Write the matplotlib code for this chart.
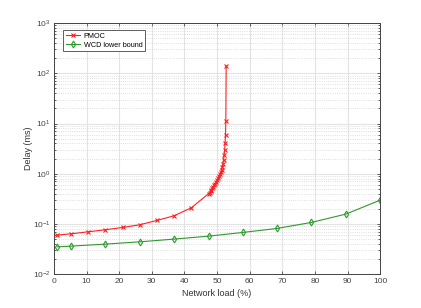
import matplotlib
matplotlib.use("Agg")
import matplotlib.pyplot as plt
from matplotlib.ticker import LogLocator, NullFormatter, MultipleLocator

plt.rcParams['font.family'] = ['Liberation Sans', 'DejaVu Sans']
plt.rcParams['mathtext.fontset'] = 'custom'
plt.rcParams['mathtext.rm'] = 'Liberation Sans'

# PMOC delay vs network load
pmoc_load = [1.05, 5.26, 10.5, 15.8, 21.1, 26.3, 31.6, 36.8, 42.1,
             47.4, 47.7, 48.0, 48.3, 48.6, 48.9, 49.2, 49.5, 49.8, 50.1,
             50.4, 50.7, 51.0, 51.2, 51.4, 51.6, 51.8, 52.0, 52.2, 52.35,
             52.45, 52.6, 52.7, 52.8]
pmoc_delay = [0.060, 0.0635, 0.0697, 0.0764, 0.0851, 0.096, 0.1175, 0.145, 0.209,
              0.40, 0.42, 0.45, 0.48, 0.51, 0.55, 0.59, 0.63, 0.68, 0.74,
              0.81, 0.89, 0.98, 1.07, 1.18, 1.33, 1.55, 1.9, 2.4, 2.95,
              4.0, 5.96, 11.3, 141.0]

# WCD lower bound
wcd_load = [1.05, 5.26, 15.8, 26.3, 36.8, 47.4, 57.9, 68.4, 78.9, 89.5, 100.0]
wcd_delay = [0.035, 0.0361, 0.0396, 0.044, 0.0498, 0.0571, 0.0676, 0.0813, 0.107, 0.157, 0.298]

fig = plt.figure(figsize=(4.21, 3.08), dpi=100)
ax = fig.add_axes([0.128, 0.110, 0.775, 0.815])

ax.plot(pmoc_load, pmoc_delay, color="#ff2020", lw=0.8, marker="x", ms=3.5,
        mew=0.8, label="PMOC")
ax.plot(wcd_load, wcd_delay, color="#2e9a2e", lw=0.8, marker="d", ms=3.5,
        mew=0.8, mfc="none", label="WCD lower bound")

ax.set_yscale("log")
ax.set_xlim(0, 100)
ax.set_ylim(1e-2, 1e3)
ax.xaxis.set_major_locator(MultipleLocator(10))
ax.yaxis.set_major_locator(LogLocator(base=10, numticks=10))
ax.yaxis.set_minor_locator(LogLocator(base=10, subs=range(2, 10), numticks=10))
ax.yaxis.set_minor_formatter(NullFormatter())

ax.grid(True, which="major", color="#e3e3e3", lw=0.8, ls="-")
ax.grid(True, which="minor", axis="y", color="#d4d4d4", lw=0.6, ls=":")
ax.set_axisbelow(True)

ax.tick_params(which="both", direction="in", top=True, right=True,
               labelsize=6, colors="#444444", length=2.5, width=0.6, pad=2.5)
ax.tick_params(which="minor", length=1.5)
for s in ax.spines.values():
    s.set_color("#444444")
    s.set_linewidth(0.7)

ax.set_xlabel("Network load (%)", fontsize=6.5, color="#333333", labelpad=3)
ax.set_ylabel("Delay (ms)", fontsize=6.5, color="#333333", labelpad=0)

leg = ax.legend(loc="upper left", fontsize=5.2, fancybox=False, framealpha=1,
                edgecolor="#444444", borderpad=0.3, handlelength=2.0,
                handletextpad=0.5, labelspacing=0.25,
                bbox_to_anchor=(0.018, 0.985))
leg.get_frame().set_linewidth(0.6)

fig.savefig("out.png", dpi=100)
